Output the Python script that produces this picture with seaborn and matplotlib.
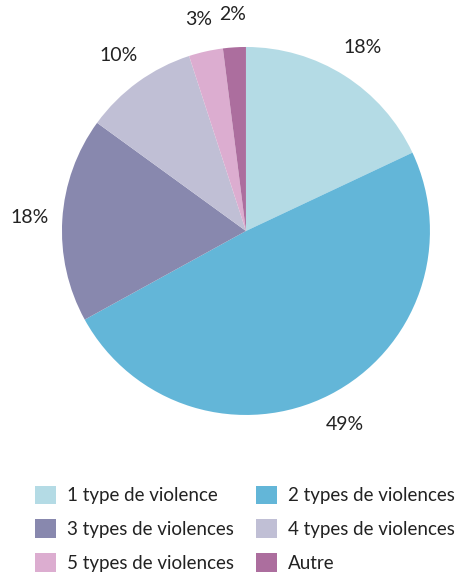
import matplotlib
matplotlib.use("Agg")
import matplotlib.pyplot as plt
import seaborn as sns
from matplotlib.patches import Patch

# -----------------------------
# Data
# -----------------------------
categories = ["1 type de violence", "2 types de violences", "3 types de violences",
              "4 types de violences", "5 types de violences", "Autre"]
shares = [18, 49, 18, 10, 3, 2]
colors = ["#b4dbe5", "#63b6d8", "#8888ae", "#c0bfd5", "#dcadd0", "#ac6e9e"]

sns.set_theme(style="white")
plt.rcParams["font.family"] = ["Lato", "DejaVu Sans"]
palette = sns.color_palette(colors)

fig = plt.figure(figsize=(4.59, 5.76), dpi=100)
ax = fig.add_axes([0.135, 0.2795, 0.8017, 0.639])

ax.pie(shares, colors=palette, startangle=90, counterclock=False,
       labels=[f"{v}%" for v in shares], labeldistance=1.18,
       textprops={"fontsize": 14, "color": "#222222", "ha": "center", "va": "center"},
       wedgeprops={"linewidth": 0})
ax.set_xlim(-1, 1)
ax.set_ylim(-1, 1)
ax.set_aspect("equal")
ax.axis("off")

# legend is row-major in the picture, matplotlib fills columns first
handles = [Patch(facecolor=c, edgecolor="none") for c in palette]
order = [0, 2, 4, 1, 3, 5]
fig.legend([handles[i] for i in order], [categories[i] for i in order],
           ncol=2, frameon=False, loc="upper left", bbox_to_anchor=(0.076, 0.157),
           borderpad=0, borderaxespad=0,
           fontsize=13.5, handlelength=1.12, handleheight=1.12, handletextpad=0.58,
           columnspacing=1.2, labelspacing=0.82, labelcolor="#222222")

fig.savefig("out.png", dpi=100)
